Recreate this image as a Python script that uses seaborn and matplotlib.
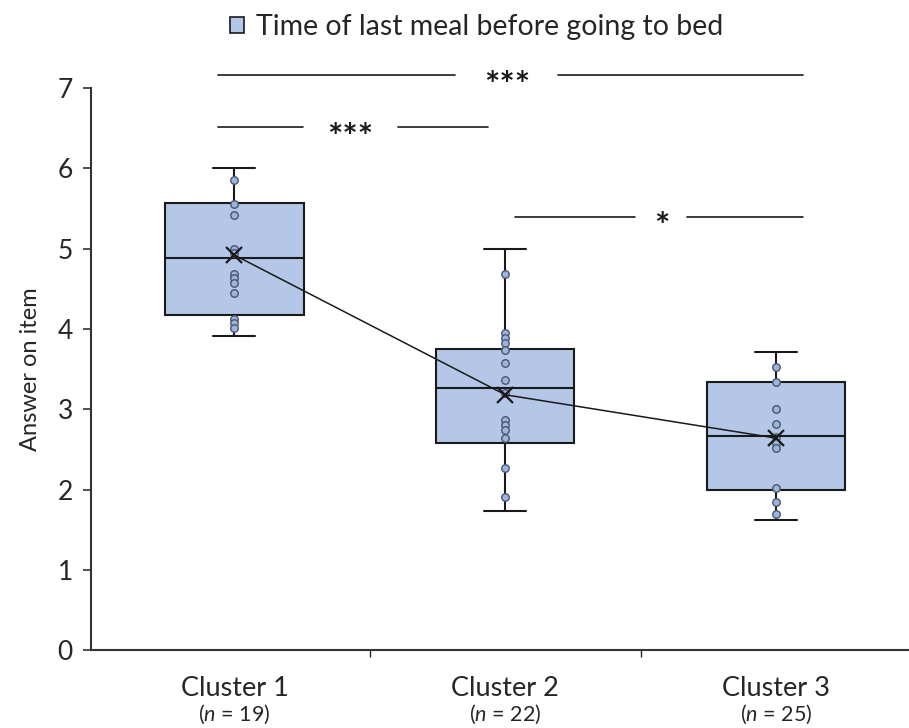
import numpy as np
import pandas as pd
import matplotlib
matplotlib.use("Agg")
import matplotlib.pyplot as plt
import matplotlib.transforms as mtransforms
from matplotlib.patches import Patch
import seaborn as sns

# Categories and group sizes
clusters = ["Cluster 1", "Cluster 2", "Cluster 3"]
group_n = [19, 22, 25]

# Box summaries: lower whisker, Q1, median, Q3, upper whisker
whisker_low = [3.91, 1.73, 1.62]
q1 = [4.18, 2.58, 2.00]
median = [4.88, 3.27, 2.67]
q3 = [5.57, 3.75, 3.34]
whisker_high = [6.00, 5.00, 3.71]

# Group means (connected by the line)
means = [4.92, 3.18, 2.64]

# Individual answers shown as dots
points_c1 = [5.85, 5.56, 5.42, 5.00, 4.95, 4.69, 4.63, 4.57, 4.45, 4.13, 4.07, 4.01]
points_c2 = [4.69, 3.95, 3.89, 3.82, 3.74, 3.57, 3.36, 3.20, 2.86, 2.80, 2.74, 2.64, 2.27, 1.91]
points_c3 = [3.52, 3.34, 3.00, 2.81, 2.65, 2.58, 2.52, 2.02, 1.85, 1.69]

# Significance annotations: (x start, x end, y, label, text x, half gap)
sig_bars = [
    (-0.06, 2.10, 7.16, "***", 1.005, 0.19),
    (-0.06, 0.935, 6.51, "***", 0.427, 0.175),
    (1.035, 2.10, 5.40, "*", 1.576, 0.096),
]

legend_label = "Time of last meal before going to bed"
y_label = "Answer on item"

BOX_COLOR = "#B4C7E7"
DOT_FACE = "#9DB4DD"
DOT_EDGE = "#4A5670"
INK = "#1a1a1a"

sns.set_theme(style="white")
plt.rcParams["font.family"] = ["Lato", "DejaVu Sans"]
plt.rcParams["mathtext.fontset"] = "custom"
plt.rcParams["mathtext.it"] = "Lato:italic"
plt.rcParams["mathtext.rm"] = "Lato"

fig = plt.figure(figsize=(9.09, 7.28), dpi=100)
ax = fig.add_axes([0.100, 0.107, 0.900, 0.772])

# Five-number summaries -> boxplot with whiskers at the extremes
box_rows = []
for c, lo, a, m, b, hi in zip(clusters, whisker_low, q1, median, q3, whisker_high):
    for v in (lo, a, m, b, hi):
        box_rows.append({"cluster": c, "value": v})
box_df = pd.DataFrame(box_rows)

sns.boxplot(
    data=box_df, x="cluster", y="value", order=clusters, ax=ax,
    whis=np.inf, width=0.51, color=BOX_COLOR, saturation=1,
    linecolor=INK, linewidth=1.5, showfliers=False,
    capwidths=0.155,
)

dot_rows = []
for c, pts in zip(clusters, [points_c1, points_c2, points_c3]):
    for v in pts:
        dot_rows.append({"cluster": c, "value": v})
dot_df = pd.DataFrame(dot_rows)

sns.stripplot(
    data=dot_df, x="cluster", y="value", order=clusters, ax=ax,
    jitter=False, size=5.4, color=DOT_FACE, edgecolor=DOT_EDGE,
    linewidth=1.0, zorder=4,
)

mean_df = pd.DataFrame({"cluster": clusters, "value": means})
sns.pointplot(
    data=mean_df, x="cluster", y="value", order=clusters, ax=ax,
    errorbar=None, color=INK, markers="x", markersize=11,
    linewidth=1.1, markeredgewidth=1.6,
)
for ln in ax.lines[-2:]:
    ln.set_zorder(6)

ax.set_xlim(-0.53, 2.49)
ax.set_ylim(0, 7)
ax.set_yticks(range(0, 8))
ax.tick_params(axis="y", labelsize=19, length=6, width=1.2, color="#333333",
               left=True, pad=7)
ax.set_ylabel(y_label, fontsize=17, labelpad=12)
ax.set_xlabel("")

# Category labels with group sizes below
ax.set_xticks(range(len(clusters)))
ax.set_xticklabels(clusters, fontsize=19.5)
ax.tick_params(axis="x", length=0, pad=19)
ax.set_xticks([0.5, 1.5], minor=True)
ax.tick_params(axis="x", which="minor", length=5, width=1.0, bottom=True)
for i, n in enumerate(group_n):
    ax.text(i, -0.094, f"($\\mathit{{n}}$ = {n})", transform=ax.get_xaxis_transform(),
            ha="center", va="top", fontsize=15.5)

for side in ("top", "right"):
    ax.spines[side].set_visible(False)
for side in ("left", "bottom"):
    ax.spines[side].set_color("#333333")
    ax.spines[side].set_linewidth(1.5)

# Significance bars
star_fs = 26
star_tr = mtransforms.offset_copy(ax.transData, fig=fig, y=-0.6 * star_fs, units="points")
for x0, x1, y, lab, xt, gap in sig_bars:
    ax.plot([x0, xt - gap], [y, y], color=INK, lw=1.2, clip_on=False)
    ax.plot([xt + gap, x1], [y, y], color=INK, lw=1.2, clip_on=False)
    ax.text(xt, y, lab, transform=star_tr, ha="center", va="baseline",
            fontsize=star_fs, fontweight="bold", color=INK, clip_on=False)

handle = Patch(facecolor=BOX_COLOR, edgecolor=INK, linewidth=1.2, label=legend_label)
fig.legend(handles=[handle], loc="center", bbox_to_anchor=(0.524, 0.963),
           frameon=False, fontsize=20.5, handlelength=0.5, handleheight=0.5,
           handletextpad=0.4)

fig.savefig("out.png", dpi=100)
